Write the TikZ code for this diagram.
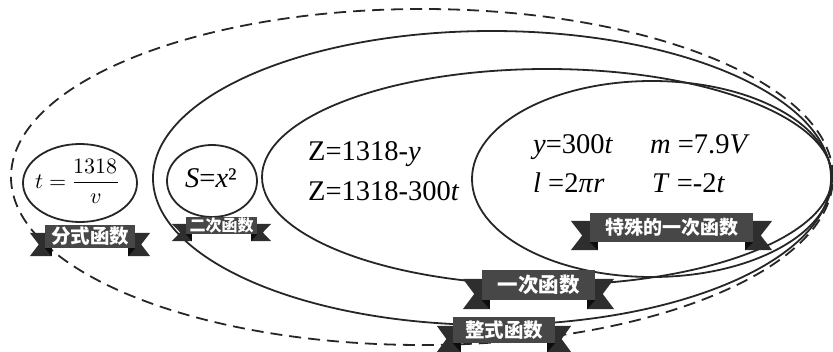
\documentclass[tikz,border=0pt]{standalone}
\usepackage{fontspec}
\usepackage{unicode-math}
\setmainfont{Liberation Serif}
\setmathfont{Latin Modern Math}
\newfontfamily\cjk{Noto Sans CJK SC}
\usetikzlibrary{shapes.geometric,calc}
\pgfdeclarelayer{back}
\pgfdeclarelayer{mid}
\pgfsetlayers{back,mid,main}
\tikzset{
  setline/.style={draw=black!85, line width=1.8pt, ellipse, inner sep=0pt},
  outerset/.style={setline, dash pattern=on 12pt off 7pt},
  formula/.style={font=\fontsize{28.5}{30}\selectfont, inner sep=0pt, anchor=base west},
  tailc/.style={fill=black!82},
  foldc/.style={fill=black!95},
  bannerbox/.style={fill=black!72, text=white, inner sep=0pt, font=\cjk\bfseries}
}
% #1 node name, #2 extension e, #3 drop d, #4 fold f
\newcommand\ribtails[4]{%
  \begin{pgfonlayer}{mid}
    \fill[tailc] ($(#1.north west)+(#4,#3)$) -- ($(#1.north west)+(-#2,#3)$)
      -- ($(#1.west)+(-0.4*#2,#3)$) -- ($(#1.south west)+(-#2,#3)$)
      -- ($(#1.south west)+(#4,#3)$) -- cycle;
    \fill[tailc] ($(#1.north east)+(-#4,#3)$) -- ($(#1.north east)+(#2,#3)$)
      -- ($(#1.east)+(0.4*#2,#3)$) -- ($(#1.south east)+(#2,#3)$)
      -- ($(#1.south east)+(-#4,#3)$) -- cycle;
  \end{pgfonlayer}
  \fill[foldc] (#1.south west) -- ($(#1.south west)+(#4,0)$) -- ($(#1.south west)+(#4,#3)$) -- cycle;
  \fill[foldc] (#1.south east) -- ($(#1.south east)+(-#4,0)$) -- ($(#1.south east)+(-#4,#3)$) -- cycle;
}
\begin{document}
\begin{tikzpicture}[x=1pt,y=-1pt]
\useasboundingbox (0,0) rectangle (833,351);
\begin{pgfonlayer}{back}
  \node[outerset, minimum width=822pt, minimum height=336pt] (allf) at (422,177) {};
  \node[setline, minimum width=678pt, minimum height=294pt] (integ) at (492,178) {};
  \node[setline, minimum width=570pt, minimum height=216pt] (linear) at (547,177) {};
  \node[setline, minimum width=360pt, minimum height=196pt] (special) at (652,179) {};
  \node[setline, minimum width=114pt, minimum height=78pt] (fracset) at (80,183) {};
  \node[setline, minimum width=90pt, minimum height=72pt] (quadset) at (212,181) {};
\end{pgfonlayer}

% formulas
\node[inner sep=0pt, font=\fontsize{22}{26}\selectfont] (ffrac) at (77,181) {$t=\displaystyle\frac{1318}{v}$};
\node[formula] (fquad) at (185,187) {\textit{S}=\textit{x}²};
\node[formula] (flin1) at (308,160) {Z=1318-\textit{y}};
\node[formula] (flin2) at (308,200) {Z=1318-300\textit{t}};
\node[formula] (fsp1) at (533,153) {\textit{y}=300\textit{t}};
\node[formula] (fsp2) at (650,153) {\textit{m} =7.9\textit{V}};
\node[formula] (fsp3) at (533,192) {\textit{l} =2\textit{π}\textit{r}};
\node[formula] (fsp4) at (652,192) {\textit{T} =-2\textit{t}};

% banners
\node[bannerbox, minimum width=90pt, minimum height=23pt, font=\cjk\bfseries\fontsize{19.5}{19.5}\selectfont] (bfrac) at (90,236.5) {分式函数};
\ribtails{bfrac}{15}{8}{7}
\node[bannerbox, minimum width=71pt, minimum height=17pt, font=\cjk\bfseries\fontsize{16}{16}\selectfont] (bquad) at (221.5,225.5) {二次函数};
\ribtails{bquad}{14}{7}{6}
\node[bannerbox, minimum width=113pt, minimum height=30pt, font=\cjk\bfseries\fontsize{20.5}{20.5}\selectfont] (blin) at (538.5,285) {一次函数};
\ribtails{blin}{19}{9}{8}
\node[bannerbox, minimum width=102pt, minimum height=26pt, font=\cjk\bfseries\fontsize{19.5}{19.5}\selectfont] (binteg) at (504,330) {整式函数};
\ribtails{binteg}{16}{9}{8}
\node[bannerbox, minimum width=163pt, minimum height=29pt, font=\cjk\bfseries\fontsize{19}{19}\selectfont] (bspec) at (671.5,227.5) {特殊的一次函数};
\ribtails{bspec}{19}{8}{8}
\end{tikzpicture}
\end{document}
